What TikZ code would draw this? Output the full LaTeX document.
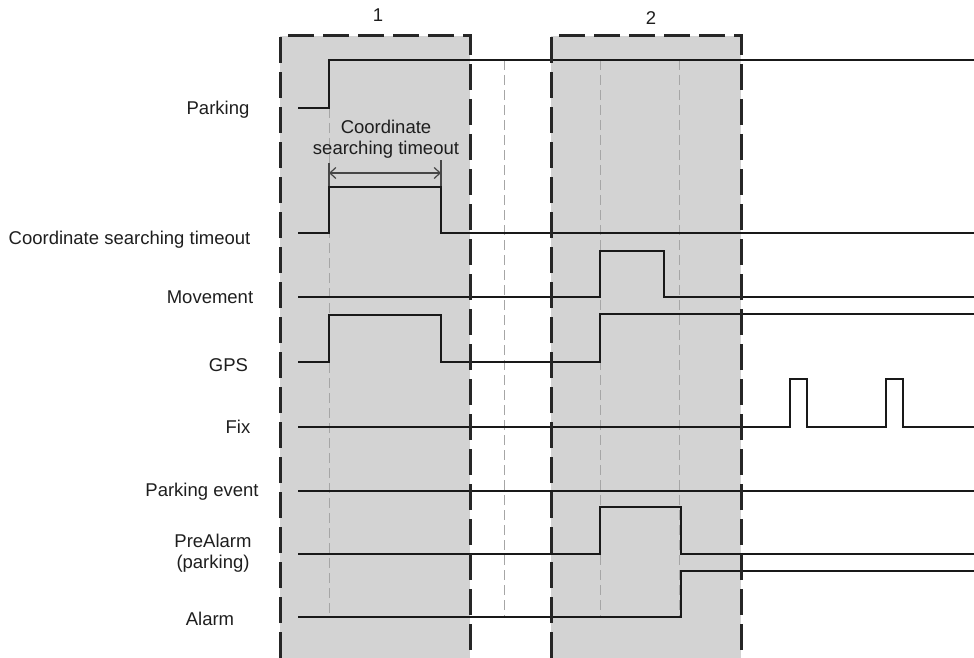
\documentclass[tikz,border=0pt]{standalone}
\usepackage{fontspec}
\setmainfont{Liberation Sans}
\usetikzlibrary{arrows.meta}
\definecolor{boxfill}{RGB}{211,211,211}
\definecolor{txt}{RGB}{30,30,30}
\definecolor{dim}{RGB}{70,70,70}
\begin{document}
\begin{tikzpicture}[x=1pt,y=-1pt,
  sig/.style={line width=2.4pt, black!90, line join=miter},
  boxedge/.style={line width=3pt, black!85, dash pattern=on 26pt off 9pt},
  guide/.style={line width=1pt, black!35, dash pattern=on 10pt off 5pt},
  lbl/.style={font=\fontsize{18.5}{20.5}\selectfont, text=txt, inner sep=0pt, align=center},
  dimline/.style={line width=1.2pt, dim},
]
\useasboundingbox (0,0) rectangle (974,658);
% shaded windows
\fill[boxfill] (280,36) rectangle (470,658);
\fill[boxfill] (551,36) rectangle (741,658);
% guides
\draw[guide] (329,108) -- (329,617);
\draw[guide] (504,60) -- (504,617);
\draw[guide] (600,60) -- (600,617);
\draw[guide] (679,60) -- (679,617);
% dimension
\coordinate (dL) at (329,173);
\coordinate (dR) at (441,173);
\draw[dimline] (329,163) -- (329,187);
\draw[dimline] (441,160) -- (441,187);
\draw[dimline, {Straight Barb[length=6pt,width=11pt]}-{Straight Barb[length=6pt,width=11pt]}] (dL) -- (dR);
\node[lbl, anchor=north] (dimtxt) at (386,120) {Coordinate\\searching timeout};
% signals
\draw[sig] (298,108) -- (329,108) -- (329,60) -- (974,60);
\draw[sig] (298,233) -- (329,233) -- (329,187) -- (441,187) -- (441,233) -- (974,233);
\draw[sig] (298,297) -- (600,297) -- (600,251) -- (664,251) -- (664,297) -- (974,297);
\draw[sig] (298,362) -- (329,362) -- (329,315) -- (441,315) -- (441,362) -- (600,362) -- (600,314) -- (974,314);
\draw[sig] (298,427) -- (790,427) -- (790,379) -- (807,379) -- (807,427) -- (886,427) -- (886,379) -- (903,379) -- (903,427) -- (974,427);
\draw[sig] (298,491) -- (974,491);
\draw[sig] (298,554) -- (600,554) -- (600,507) -- (681,507) -- (681,554) -- (974,554);
\draw[sig] (298,617) -- (681,617) -- (681,571) -- (974,571);
% window borders
\draw[boxedge] (280,658) -- (280,36) -- (470,36) -- (470,658);
\draw[boxedge] (551,658) -- (551,36) -- (741,36) -- (741,658);
% window numbers
\node[lbl, anchor=base] (n1) at (378,22) {1};
\node[lbl, anchor=base] (n2) at (651,25) {2};
% signal labels
\node[lbl, anchor=base] (lpark) at (218,115) {Parking};
\node[lbl, anchor=base] (lcst) at (129.5,244) {Coordinate searching timeout};
\node[lbl, anchor=base] (lmove) at (210,303) {Movement};
\node[lbl, anchor=base] (lgps) at (228.5,371) {GPS};
\node[lbl, anchor=base] (lfix) at (238,433) {Fix};
\node[lbl, anchor=base] (lpev) at (202,496) {Parking event};
\node[lbl, anchor=north] (lpre) at (213,534) {PreAlarm\\(parking)};
\node[lbl, anchor=base] (lalarm) at (210,625) {Alarm};
\end{tikzpicture}
\end{document}
